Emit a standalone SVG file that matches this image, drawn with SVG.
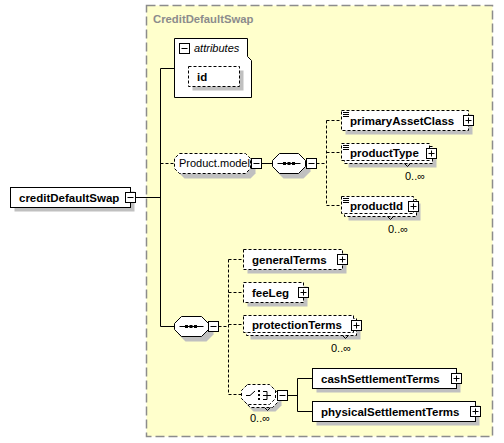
<svg xmlns="http://www.w3.org/2000/svg" width="504" height="443" viewBox="0 0 504 443">
<defs>
<style>
.frame{fill:#FFFFCC;stroke:#8c8c8c;stroke-width:1.5;stroke-dasharray:9,4}
.box{fill:#fff;stroke:#000;stroke-width:1}
.opt{fill:#fff;stroke:#000;stroke-width:1;stroke-dasharray:3,2}
.sh{fill:#c0c0c0}
.t{font-family:"Liberation Sans",Arial,sans-serif;font-size:11.5px;font-weight:bold;fill:#000}
.n{font-family:"Liberation Sans",Arial,sans-serif;font-size:11px;fill:#000}
.title{font-family:"Liberation Sans",Arial,sans-serif;font-size:11.3px;font-weight:bold;fill:#8c8c8c}
.solid{fill:none;stroke:#000;stroke-width:1}
.dash{fill:none;stroke:#000;stroke-width:1;stroke-dasharray:3,2}
.ico{fill:none;stroke:#000;stroke-width:1}
</style>
<g id="minus"><rect x="1" y="1" width="10" height="10" fill="#000"/><rect x="0.5" y="0.5" width="10" height="10" fill="#fff" stroke="#000"/><path d="M2.5,5.5H8.5" stroke="#000"/></g>
<g id="plus"><rect x="1" y="1" width="10" height="10" fill="#000"/><rect x="0.5" y="0.5" width="10" height="10" fill="#fff" stroke="#000"/><path d="M2.5,5.5H8.5M5.5,2.5V8.5" stroke="#000"/></g>
<g id="lines"><path d="M0,0.5H6M0,2.5H6M0,4.5H6" stroke="#000" stroke-width="1"/></g>
</defs>

<rect class="frame" x="146.5" y="5.5" width="346" height="431"/>
<text class="title" x="153" y="23">CreditDefaultSwap</text>

<g id="connectors">
<path class="solid" d="M135.5,197.5H160.5M160.5,68.5V326.5M160.5,68.5H174.5M160.5,326.5H174.5"/>
<path class="dash" d="M160.5,163.5H174.5"/>
<path class="solid" d="M261.5,163.5H272.5"/>
<path class="dash" d="M316.5,163.5H326.5M326.5,120.5V205.5M326.5,120.5H341.5M326.5,152.5H341.5M326.5,205.5H341.5"/>
<path class="dash" d="M218.5,326.5H228.5M228.5,259.5V394.5M228.5,259.5H243.5M228.5,292.5H243.5M228.5,324.5H243.5M228.5,394.5H241.5"/>
<path class="solid" d="M287.5,395.5H297.5M297.5,378.5V411.5M297.5,378.5H312.5M297.5,411.5H312.5"/>
</g>

<g id="creditDefaultSwap">
<rect class="sh" x="14.5" y="191.5" width="120" height="20"/>
<rect class="box" x="10.5" y="187.5" width="120" height="20"/>
<text class="t" x="19" y="201.5">creditDefaultSwap</text>
<use href="#minus" x="125" y="192"/>
</g>

<g id="attributes">
<path class="box" d="M174.5,38.5H247.5V56.5L251.5,60.5V97.5H174.5Z"/>
<use href="#minus" x="179" y="43"/>
<text class="n" x="194" y="52" font-style="italic" font-size="11.4">attributes</text>
</g>

<g id="id">
<rect class="sh" x="192.5" y="70.5" width="51" height="20"/>
<rect class="opt" x="188.5" y="66.5" width="51" height="20"/>
<text class="t" x="197" y="80.5">id</text>
</g>

<g id="Product.model">
<path class="sh" d="M184.5,158.5H250.5L255.5,163.5V173.5L250.5,178.5H184.5L179.5,173.5V163.5Z"/>
<path class="opt" d="M179.5,153.5H245.5L250.5,158.5V168.5L245.5,173.5H179.5L174.5,168.5V158.5Z"/>
<text class="n" x="179" y="167" font-size="10.4">Product.model</text>
<use href="#minus" x="251" y="158"/>
</g>

<g id="sequence1">
<path class="sh" d="M283.5,158.5H303.5L310.5,165.5V171.5L303.5,178.5H283.5L276.5,171.5V165.5Z"/>
<path class="box" d="M279.5,153.5H298.5L305.5,160.5V166.5L298.5,173.5H279.5L272.5,166.5V160.5Z"/>
<path class="ico" d="M277.5,163.5H300.5"/>
<rect x="283" y="162" width="3" height="3"/><rect x="287.5" y="162" width="3" height="3"/><rect x="292" y="162" width="3" height="3"/>
<use href="#minus" x="306" y="158"/>
</g>

<g id="primaryAssetClass">
<rect class="sh" x="345.5" y="114.5" width="127" height="20"/>
<rect class="opt" x="341.5" y="110.5" width="127" height="20"/>
<use href="#lines" x="343" y="112"/>
<text class="t" x="350" y="124.5">primaryAssetClass</text>
<use href="#plus" x="463" y="115"/>
</g>

<g id="productType">
<rect class="sh" x="348.5" y="150.5" width="88" height="17"/>
<rect class="opt" x="344.5" y="146.5" width="88" height="17"/>
<rect class="opt" x="341.5" y="143.5" width="88" height="17"/>
<path class="solid" d="M404.5,163.5L407.5,166.5L410.5,163.5"/>
<use href="#lines" x="343" y="145"/>
<text class="t" x="350" y="157">productType</text>
<use href="#plus" x="426" y="148"/>
<text class="n" x="405" y="180">0..∞</text>
</g>

<g id="productId">
<rect class="sh" x="348.5" y="203.5" width="72" height="17"/>
<rect class="opt" x="344.5" y="199.5" width="72" height="17"/>
<rect class="opt" x="341.5" y="196.5" width="72" height="17"/>
<path class="solid" d="M387.5,216.5L390.5,219.5L393.5,216.5"/>
<use href="#lines" x="343" y="198"/>
<text class="t" x="350" y="210">productId</text>
<use href="#plus" x="408" y="201"/>
<text class="n" x="388" y="233">0..∞</text>
</g>

<g id="sequence2">
<path class="sh" d="M185.5,321.5H206.5L213.5,328.5V334.5L206.5,341.5H185.5L178.5,334.5V328.5Z"/>
<path class="box" d="M181.5,316.5H201.5L208.5,323.5V329.5L201.5,336.5H181.5L174.5,329.5V323.5Z"/>
<path class="ico" d="M179.5,326.5H203.5"/>
<rect x="185" y="325" width="3" height="3"/><rect x="189.5" y="325" width="3" height="3"/><rect x="194" y="325" width="3" height="3"/>
<use href="#minus" x="208" y="321"/>
</g>

<g id="generalTerms">
<rect class="sh" x="247.5" y="253.5" width="99" height="20"/>
<rect class="opt" x="243.5" y="249.5" width="99" height="20"/>
<text class="t" x="252" y="263.5">generalTerms</text>
<use href="#plus" x="337" y="254"/>
</g>

<g id="feeLeg">
<rect class="sh" x="247.5" y="286.5" width="60" height="20"/>
<rect class="opt" x="243.5" y="282.5" width="60" height="20"/>
<text class="t" x="252" y="296.5">feeLeg</text>
<use href="#plus" x="298" y="287"/>
</g>

<g id="protectionTerms">
<rect class="sh" x="250.5" y="322.5" width="110" height="17"/>
<rect class="opt" x="246.5" y="318.5" width="110" height="17"/>
<rect class="opt" x="243.5" y="315.5" width="110" height="17"/>
<path class="solid" d="M342.5,335.5L345.5,338.5L348.5,335.5"/>
<text class="t" x="252" y="329">protectionTerms</text>
<use href="#plus" x="351" y="320"/>
<text class="n" x="331" y="352">0..∞</text>
</g>

<g id="choice">
<path class="sh" d="M253.5,391.5H275.5L281.5,397.5V405.5L275.5,411.5H253.5L247.5,405.5V397.5Z"/>
<path class="opt" d="M250.5,387.5H272.5L278.5,393.5V401.5L272.5,407.5H250.5L244.5,401.5V393.5Z"/>
<path class="opt" d="M247.5,384.5H269.5L275.5,390.5V398.5L269.5,404.5H247.5L241.5,398.5V390.5Z"/>
<path class="solid" d="M264.5,407.5L267.5,410.5L270.5,407.5"/>
<path class="ico" d="M246,395.5H250L255,391M263,391.5H267V399.5H263M263,395.5H271"/>
<rect x="258" y="390" width="2" height="2"/><rect x="258" y="394" width="2" height="2"/><rect x="258" y="398" width="2" height="2"/>
<use href="#minus" x="277" y="390"/>
<text class="n" x="250" y="422">0..∞</text>
</g>

<g id="cashSettlementTerms">
<rect class="sh" x="316.5" y="372.5" width="144" height="20"/>
<rect class="box" x="312.5" y="368.5" width="144" height="20"/>
<text class="t" x="321" y="382.5">cashSettlementTerms</text>
<use href="#plus" x="451" y="373"/>
</g>

<g id="physicalSettlementTerms">
<rect class="sh" x="316.5" y="405.5" width="163" height="20"/>
<rect class="box" x="312.5" y="401.5" width="163" height="20"/>
<text class="t" x="321" y="415.5">physicalSettlementTerms</text>
<use href="#plus" x="470" y="406"/>
</g>
</svg>
